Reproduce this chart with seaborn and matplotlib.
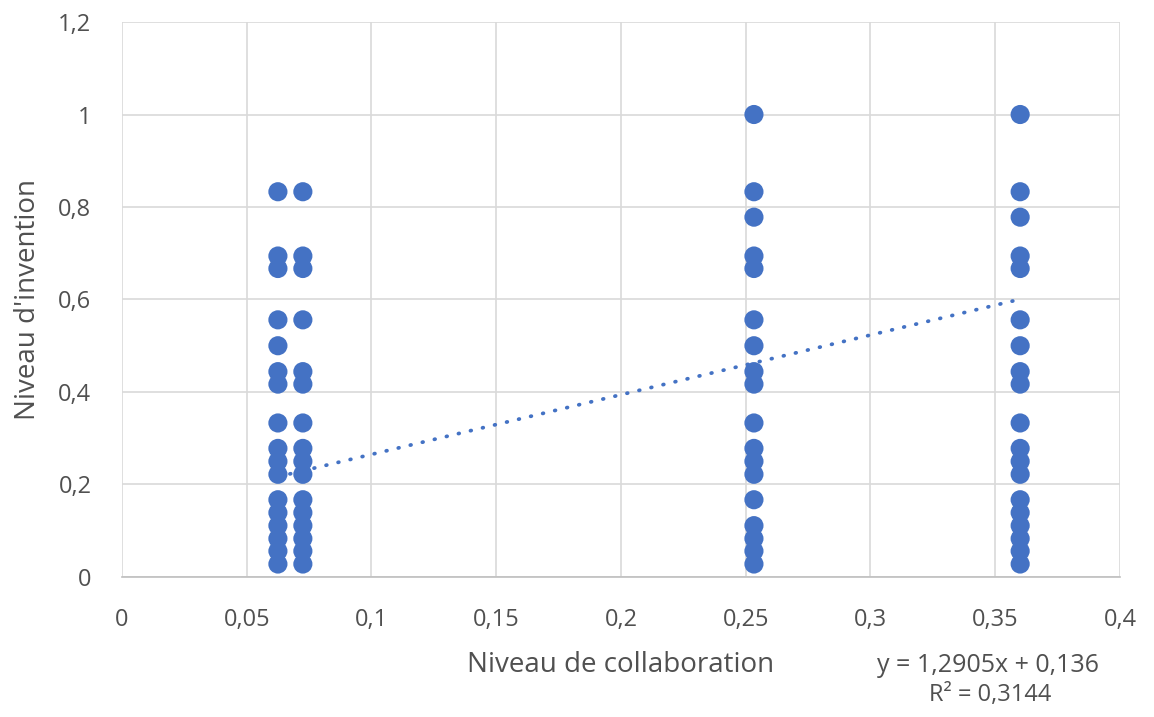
import pandas as pd
import matplotlib.pyplot as plt
import seaborn as sns

# Values (x column positions and the y levels found in each)
x_cols = [0.0625, 0.0725, 0.2533, 0.36]
y_col1 = [0.833, 0.694, 0.667, 0.556, 0.5, 0.444, 0.417, 0.333, 0.278, 0.25, 0.222,
          0.167, 0.139, 0.111, 0.083, 0.056, 0.028]
y_col2 = [0.833, 0.694, 0.667, 0.556, 0.444, 0.417, 0.333, 0.278, 0.25, 0.222,
          0.167, 0.139, 0.111, 0.083, 0.056, 0.028]
y_col3 = [1.0, 0.833, 0.778, 0.694, 0.667, 0.556, 0.5, 0.444, 0.417, 0.333, 0.278,
          0.25, 0.222, 0.167, 0.111, 0.083, 0.056, 0.028]
y_col4 = [1.0, 0.833, 0.778, 0.694, 0.667, 0.556, 0.5, 0.444, 0.417, 0.333, 0.278,
          0.25, 0.222, 0.167, 0.139, 0.111, 0.083, 0.056, 0.028]

# Trend line shown on the chart
slope = 1.2905
intercept = 0.136
r2 = 0.3144

x_ticks = [0, 0.05, 0.1, 0.15, 0.2, 0.25, 0.3, 0.35, 0.4]
y_ticks = [0, 0.2, 0.4, 0.6, 0.8, 1.0, 1.2]

rows = []
for x, ys in zip(x_cols, [y_col1, y_col2, y_col3, y_col4]):
    for y in ys:
        rows.append({'collab': x, 'invention': y})
df = pd.DataFrame(rows)

sns.set_style('whitegrid')
plt.rcParams['font.family'] = ['Open Sans', 'DejaVu Sans']

blue = '#4472C4'
grey = '#505050'

fig = plt.figure(figsize=(11.54, 7.17), dpi=100)
ax = fig.add_axes([0.1057, 0.1953, 0.8648, 0.774])

sns.scatterplot(data=df, x='collab', y='invention', s=190, color=blue,
                edgecolor='none', ax=ax, zorder=3)

# trend line over the data range
xmin, xmax = df['collab'].min(), df['collab'].max()
ax.plot([xmin, xmax], [slope * xmin + intercept, slope * xmax + intercept],
        color=blue, lw=2.7, linestyle=(0, (0.2, 3.1)), dash_capstyle='round', zorder=4)

ax.set_xlim(0, 0.4)
ax.set_ylim(0, 1.2)
ax.set_xticks(x_ticks)
ax.set_yticks(y_ticks)
ax.set_xticklabels([('%g' % t).replace('.', ',') for t in x_ticks])
ax.set_yticklabels([('%g' % t).replace('.', ',') for t in y_ticks])
ax.tick_params(axis='both', length=0, labelsize=17, labelcolor=grey)
ax.tick_params(axis='x', pad=22)
ax.tick_params(axis='y', pad=22)

ax.grid(True, color='#D9D9D9', lw=1.2)
for side in ['top', 'right', 'left']:
    ax.spines[side].set_visible(False)
ax.spines['bottom'].set_color('#BFBFBF')
ax.spines['bottom'].set_linewidth(1.2)

ax.set_xlabel('')
ax.set_ylabel('')
fig.text(0.0243, 0.582, "Niveau d'invention", fontsize=20, color=grey,
         rotation=90, ha='center', va='center')
fig.text(0.538, 0.0725, 'Niveau de collaboration', fontsize=20, color=grey,
         ha='center', va='center')
fig.text(0.856, 0.0725, 'y = 1,2905x + 0,136', fontsize=18, color=grey,
         ha='center', va='center')
fig.text(0.858, 0.0307, 'R² = 0,3144', fontsize=17, color=grey,
         ha='center', va='center')

plt.savefig('out.png', dpi=100)
